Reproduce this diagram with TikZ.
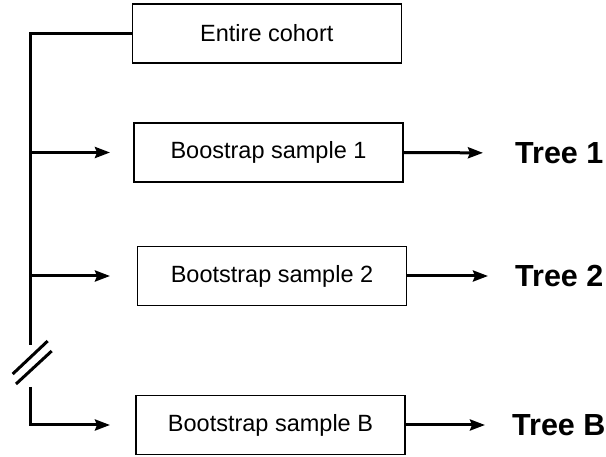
\documentclass[tikz,border=0pt]{standalone}
\usepackage{fontspec}
\setmainfont{Liberation Sans}
\usetikzlibrary{arrows.meta}
\begin{document}
\begin{tikzpicture}[x=1pt,y=-1pt,
 box/.style={draw, line width=1.5pt, minimum width=269pt, minimum height=59pt, inner sep=0pt, font=\fontsize{23.5}{28}\selectfont},
 tree/.style={anchor=west, inner sep=0pt, font=\fontsize{30.5}{36}\selectfont\bfseries},
 trunk/.style={line width=3pt, line join=miter},
 arr/.style={line width=3pt, line join=miter, -{Stealth[length=15pt,width=11pt,inset=2pt]}},
 brk/.style={line width=3pt}]
\useasboundingbox (0,0) rectangle (606,457);
\node[box] (c) at (266.8,33.5) {Entire cohort};
\node[box] (s1) at (268.5,152.5) {Boostrap sample 1};
\node[box] (s2) at (272,276) {Bootstrap sample 2};
\node[box] (sB) at (270.5,425) {Bootstrap sample B};
\node[tree] (t1) at (515,153) {Tree 1};
\node[tree] (t2) at (515,276) {Tree 2};
\node[tree] (tB) at (512,425) {Tree B};
\coordinate (top) at (30,33.5);
\coordinate (brka) at (30,345);
\coordinate (brkb) at (30,387);
\coordinate (bot) at (30,425);
\coordinate (tipx) at (110,0);
\draw[trunk] (c.west) -- (top) -- (brka);
\draw[arr] (brkb) -- (bot) -- (sB.west -| tipx);
\draw[arr] (s1.west -| top) -- (s1.west -| tipx);
\draw[arr] (s2.west -| top) -- (s2.west -| tipx);
\draw[brk] (12.7,374) -- (47.7,341);
\draw[brk] (16,384) -- (51.7,351);
\draw[arr, shorten >=32pt] (s1.east) -- (t1.west);
\draw[arr, shorten >=27pt] (s2.east) -- (t2.west);
\draw[arr, shorten >=27pt] (sB.east) -- (tB.west);
\end{tikzpicture}
\end{document}
